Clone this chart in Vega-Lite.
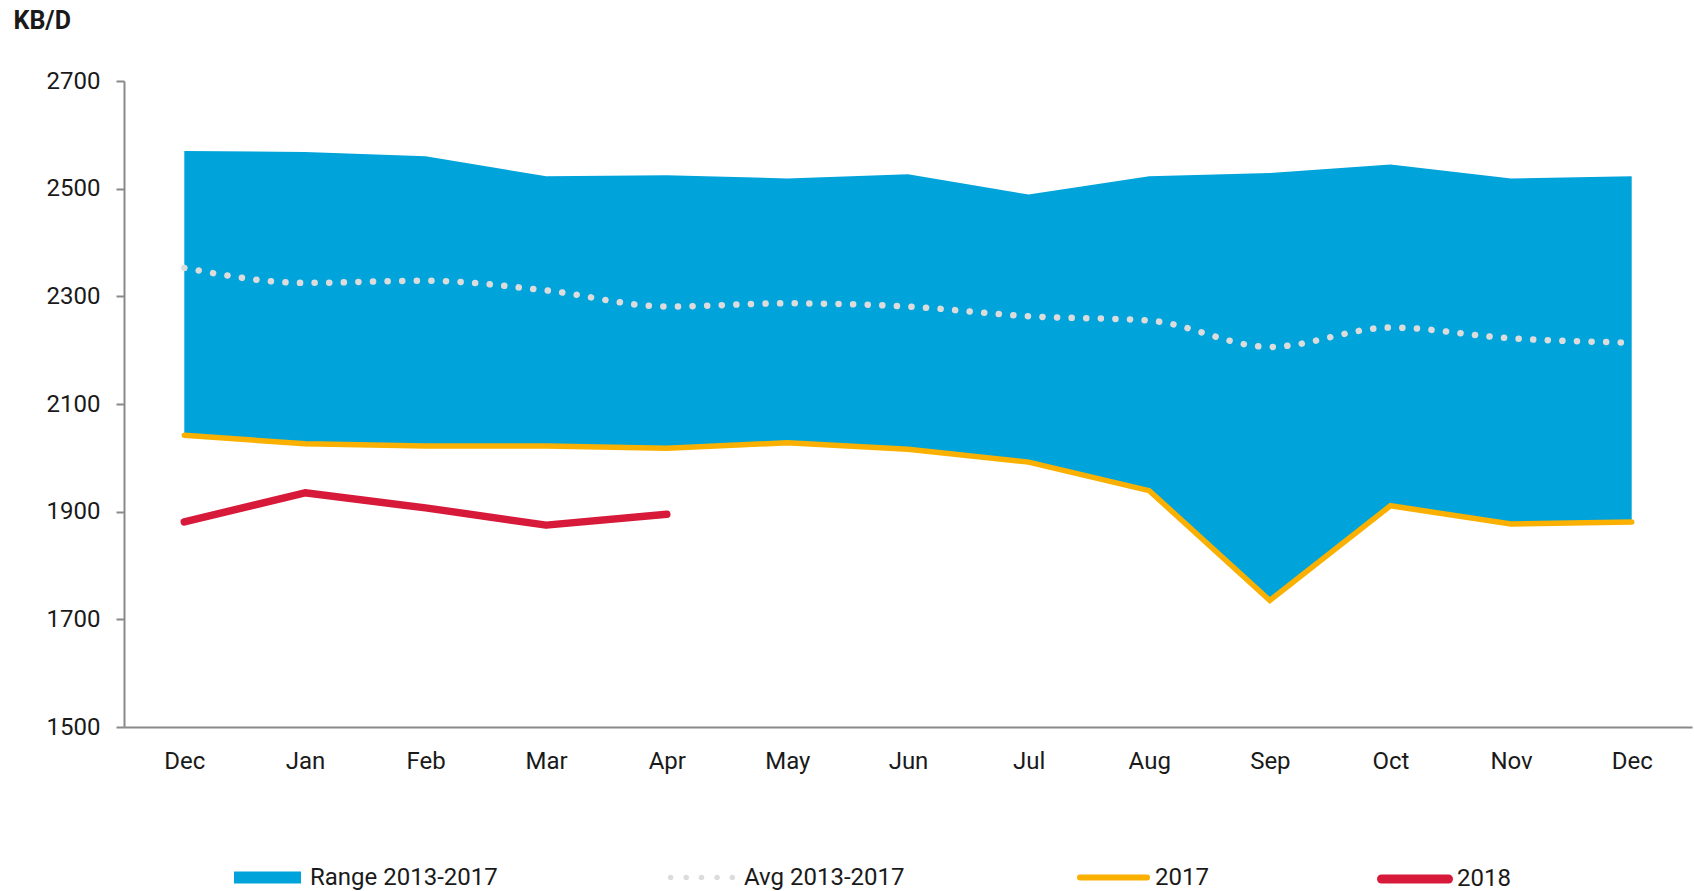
{
  "$schema": "https://vega.github.io/schema/vega-lite/v6.json",
  "width": 1568,
  "height": 646,
  "autosize": {"type": "none"},
  "padding": {"left": 124, "top": 81, "right": 2, "bottom": 164},
  "background": "white",
  "config": {
    "view": {"stroke": null},
    "font": "Roboto",
    "axis": {"labelFont": "Roboto", "labelFontSize": 24, "labelColor": "#1a1a1a", "domainColor": "#898989", "domainWidth": 2, "tickColor": "#898989", "tickWidth": 2, "grid": false},
    "legend": {"orient": "none", "padding": 0, "labelFont": "Roboto", "labelFontSize": 24, "labelColor": "#1a1a1a", "labelOffset": 9, "labelLimit": 400, "symbolSize": 4489, "title": null}
  },
  "data": {
    "values": [
      {"m": "Dec16", "hi": 2570, "lo": 2042, "avg": 2353, "y17": 2042, "y18": 1881},
      {"m": "Jan", "hi": 2568, "lo": 2026, "avg": 2325, "y17": 2026, "y18": 1935},
      {"m": "Feb", "hi": 2560, "lo": 2022, "avg": 2329, "y17": 2022, "y18": 1907},
      {"m": "Mar", "hi": 2523, "lo": 2022, "avg": 2311, "y17": 2022, "y18": 1875},
      {"m": "Apr", "hi": 2525, "lo": 2018, "avg": 2281, "y17": 2018, "y18": 1895},
      {"m": "May", "hi": 2519, "lo": 2028, "avg": 2287, "y17": 2028, "y18": null},
      {"m": "Jun", "hi": 2527, "lo": 2016, "avg": 2281, "y17": 2016, "y18": null},
      {"m": "Jul", "hi": 2489, "lo": 1992, "avg": 2263, "y17": 1992, "y18": null},
      {"m": "Aug", "hi": 2523, "lo": 1939, "avg": 2255, "y17": 1939, "y18": null},
      {"m": "Sep", "hi": 2529, "lo": 1735, "avg": 2206, "y17": 1735, "y18": null},
      {"m": "Oct", "hi": 2545, "lo": 1911, "avg": 2242, "y17": 1911, "y18": null},
      {"m": "Nov", "hi": 2519, "lo": 1877, "avg": 2222, "y17": 1877, "y18": null},
      {"m": "Dec17", "hi": 2523, "lo": 1881, "avg": 2214, "y17": 1881, "y18": null}
    ]
  },
  "encoding": {
    "x": {
      "field": "m", "type": "ordinal", "sort": null,
      "scale": {"type": "point", "padding": 0.5},
      "axis": {"title": null, "ticks": false, "labelPadding": 22, "labelAngle": 0, "labelExpr": "slice(datum.label, 0, 3)"}
    }
  },
  "layer": [
    {
      "mark": {"type": "area", "interpolate": "linear"},
      "encoding": {
        "y": {
          "field": "hi", "type": "quantitative",
          "scale": {"domain": [1500, 2700], "nice": false, "zero": false},
          "axis": {"values": [1500, 1700, 1900, 2100, 2300, 2500, 2700], "format": "d", "tickSize": 8, "labelPadding": 16, "title": "KB/D", "titleAngle": 0, "titleX": -111, "titleY": -61, "titleAlign": "left", "titleBaseline": "middle", "titleFont": "Roboto", "titleFontSize": 25, "titleFontWeight": "bold", "titleColor": "#1a1a1a"}
        },
        "y2": {"field": "lo"},
        "fill": {
          "datum": "Range 2013-2017", "type": "nominal",
          "scale": {"range": ["#00A3DA"]},
          "legend": {"legendX": 110, "legendY": 763, "symbolType": "M-1,-0.18H1V0.18H-1Z", "symbolStrokeWidth": 0}
        }
      }
    },
    {
      "mark": {"type": "line", "interpolate": "monotone", "strokeWidth": 6.5, "strokeCap": "round", "strokeDash": [0.1, 14.5]},
      "encoding": {
        "y": {"field": "avg", "type": "quantitative"},
        "stroke": {
          "datum": "Avg 2013-2017", "type": "nominal",
          "scale": {"range": ["#DCDCDC"]},
          "legend": {"legendX": 544, "legendY": 763, "symbolType": "M-1.005,0a0.085,0.085 0 1,0 0.17,0a0.085,0.085 0 1,0 -0.17,0M-0.54,0a0.085,0.085 0 1,0 0.17,0a0.085,0.085 0 1,0 -0.17,0M-0.085,0a0.085,0.085 0 1,0 0.17,0a0.085,0.085 0 1,0 -0.17,0M0.38,0a0.085,0.085 0 1,0 0.17,0a0.085,0.085 0 1,0 -0.17,0M0.835,0a0.085,0.085 0 1,0 0.17,0a0.085,0.085 0 1,0 -0.17,0Z", "symbolFillColor": "#DCDCDC", "symbolStrokeWidth": 0}
        }
      }
    },
    {
      "mark": {"type": "line", "strokeWidth": 5.5, "strokeCap": "round", "strokeJoin": "miter"},
      "encoding": {
        "y": {"field": "y17", "type": "quantitative"},
        "stroke": {
          "datum": "2017", "type": "nominal",
          "scale": {"range": ["#F9B000"]},
          "legend": {"legendX": 953, "legendY": 760, "labelOffset": 5, "symbolType": "stroke", "symbolStrokeWidth": 6, "encode": {"symbols": {"update": {"strokeCap": {"value": "round"}}}}}
        }
      }
    },
    {
      "transform": [{"filter": "datum.y18 != null"}],
      "mark": {"type": "line", "strokeWidth": 7.5, "strokeCap": "round", "strokeJoin": "round"},
      "encoding": {
        "y": {"field": "y18", "type": "quantitative"},
        "stroke": {
          "datum": "2018", "type": "nominal",
          "scale": {"range": ["#D7193A"]},
          "legend": {"legendX": 1253, "legendY": 760, "labelOffset": 4, "symbolType": "stroke", "symbolStrokeWidth": 9, "encode": {"symbols": {"update": {"strokeCap": {"value": "round"}}}}}
        }
      }
    }
  ],
  "resolve": {"scale": {"stroke": "independent", "fill": "independent"}, "legend": {"stroke": "independent", "fill": "independent"}}
}
